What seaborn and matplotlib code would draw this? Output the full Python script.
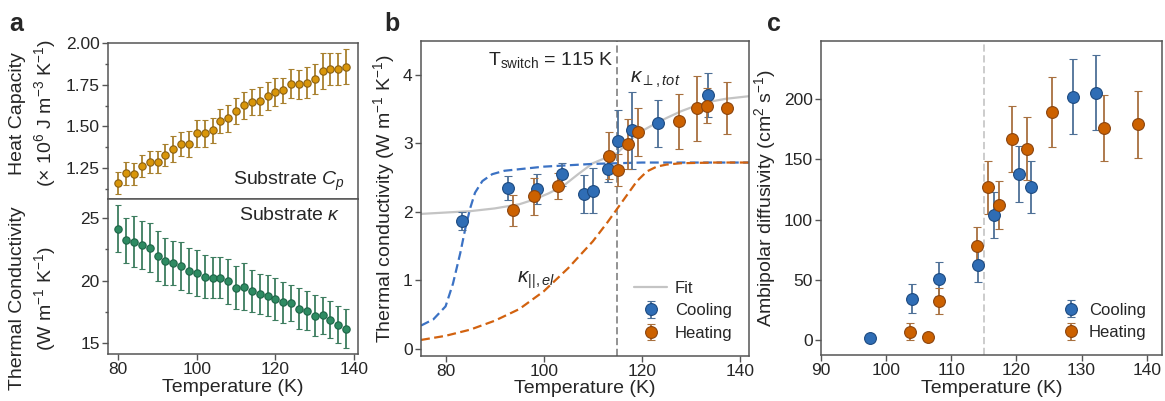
import matplotlib
matplotlib.use("Agg")
import matplotlib.pyplot as plt
import seaborn as sns
import numpy as np
from matplotlib.ticker import MultipleLocator

# ---- panel a: substrate heat capacity and thermal conductivity
temp_sub = [80, 82, 84, 86, 88, 90, 92, 94, 96, 98, 100, 102, 104, 106, 108,
            110, 112, 114, 116, 118, 120, 122, 124, 126, 128, 130, 132, 134, 136, 138]
cp = [1.161, 1.218, 1.216, 1.262, 1.286, 1.288, 1.329, 1.365, 1.395, 1.395,
      1.460, 1.458, 1.476, 1.534, 1.550, 1.591, 1.627, 1.647, 1.653, 1.683,
      1.704, 1.718, 1.756, 1.752, 1.762, 1.786, 1.833, 1.847, 1.843, 1.859]
cp_err = [0.067, 0.071, 0.067, 0.066, 0.067, 0.066, 0.064, 0.077, 0.073, 0.078,
          0.081, 0.083, 0.073, 0.073, 0.081, 0.078, 0.080, 0.079, 0.082, 0.085,
          0.084, 0.075, 0.086, 0.088, 0.094, 0.090, 0.108, 0.096, 0.097, 0.107]
kappa_sub = [24.15, 23.22, 23.11, 22.87, 22.63, 21.97, 21.54, 21.38, 21.17, 20.80,
             20.61, 20.32, 20.24, 20.24, 19.95, 19.44, 19.52, 19.18, 18.94, 18.80,
             18.54, 18.27, 18.22, 17.77, 17.61, 17.21, 17.23, 16.89, 16.49, 16.17]
kappa_sub_err = [1.87, 1.78, 2.00, 1.91, 1.93, 1.99, 1.86, 1.77, 1.90, 1.78,
                 1.82, 1.72, 1.62, 1.64, 1.81, 1.70, 1.87, 1.65, 1.61, 1.62,
                 1.65, 1.64, 1.46, 1.64, 1.58, 1.62, 1.49, 1.50, 1.45, 1.57]

# ---- panel b: thermal conductivity
cool_T = [83.4, 92.8, 98.7, 103.8, 108.1, 110.1, 113.1, 115.1, 118.0, 123.3, 133.4]
cool_k = [1.87, 2.35, 2.33, 2.55, 2.26, 2.31, 2.62, 3.04, 3.19, 3.29, 3.70]
cool_k_err = [0.13, 0.18, 0.22, 0.17, 0.28, 0.33, 0.19, 0.45, 0.56, 0.34, 0.32]
heat_T = [93.7, 98.0, 103.0, 113.2, 115.1, 117.1, 119.1, 127.5, 131.3, 133.3, 137.4]
heat_k = [2.02, 2.23, 2.38, 2.82, 2.61, 2.99, 3.16, 3.32, 3.51, 3.55, 3.51]
heat_k_err = [0.22, 0.27, 0.19, 0.34, 0.23, 0.37, 0.35, 0.40, 0.48, 0.26, 0.38]

fit_T = [75, 80, 85, 90, 95, 98, 101, 104, 107, 110, 113, 115, 117, 119,
         122, 125, 128, 131, 134, 137, 142]
fit_k = [1.97, 1.99, 2.01, 2.05, 2.11, 2.18, 2.27, 2.38, 2.55, 2.71, 2.80, 2.86,
         3.00, 3.14, 3.26, 3.37, 3.47, 3.55, 3.61, 3.65, 3.69]

perp_T = [75, 77.5, 80, 81.5, 83, 84, 85, 86, 87.5, 89.5, 92, 96, 100, 105,
          110, 115, 120, 130, 142]
perp_k = [0.34, 0.43, 0.62, 0.95, 1.40, 1.75, 2.05, 2.28, 2.45, 2.55, 2.60,
          2.63, 2.66, 2.68, 2.70, 2.71, 2.72, 2.72, 2.72]
par_T = [75, 80, 85, 90, 95, 100, 105, 110, 113, 115, 117, 119, 121,
         123, 125, 128, 135, 142]
par_k = [0.13, 0.19, 0.28, 0.41, 0.58, 0.84, 1.18, 1.57, 1.85, 2.05,
         2.25, 2.45, 2.59, 2.66, 2.69, 2.71, 2.72, 2.72]

# ---- panel c: ambipolar diffusivity
cool_T_c = [97.5, 104.05, 108.05, 114.1, 116.5, 120.4, 122.2, 128.7, 132.2]
cool_D = [2.2, 34.5, 50.8, 62.7, 104.0, 137.8, 127.0, 202.2, 205.5]
cool_D_err = [0.8, 11.8, 13.8, 14.4, 19.0, 23.0, 21.8, 30.8, 31.0]
heat_T_c = [103.6, 106.4, 108.15, 113.9, 115.6, 117.4, 119.3, 121.7, 125.5, 133.4, 138.6]
heat_D = [7.1, 2.7, 32.6, 78.2, 127.0, 112.3, 167.0, 159.0, 189.5, 176.0, 179.0]
heat_D_err = [6.9, 3.0, 11.0, 16.0, 22.0, 20.0, 27.0, 26.0, 29.3, 27.2, 27.4]

T_SWITCH = 115

sns.set_theme(style="ticks")
plt.rcParams['font.family'] = ['Liberation Sans', 'DejaVu Sans']
plt.rcParams['mathtext.fontset'] = 'custom'
plt.rcParams['mathtext.rm'] = 'Liberation Sans'
plt.rcParams['mathtext.it'] = 'Liberation Sans:italic'
plt.rcParams['mathtext.bf'] = 'Liberation Sans:bold'

BLUE, BLUE_EDGE, BLUE_BAR = "#2f6db5", "#1d4a80", "#4d6f96"
ORANGE, ORANGE_EDGE, ORANGE_BAR = "#cc6100", "#8a4510", "#a8703f"
GOLD, GOLD_EDGE, GOLD_BAR = "#d9960a", "#8a6012", "#a8802e"
GREEN, GREEN_EDGE, GREEN_BAR = "#2e8b62", "#1d6547", "#3d7d5f"
SPINE = "#555555"
TICK_FS, LABEL_FS = 12.5, 14

fig = plt.figure(figsize=(11.65, 4.01), dpi=100)
ax_cp = fig.add_axes([0.0927, 0.5037, 0.2146, 0.389])
ax_ks = fig.add_axes([0.0927, 0.1172, 0.2146, 0.3865], sharex=ax_cp)
ax_b = fig.add_axes([0.3614, 0.113, 0.2815, 0.784])
ax_c = fig.add_axes([0.7047, 0.1147, 0.2924, 0.7823])


def style_axes(ax):
    for s in ax.spines.values():
        s.set_visible(True)
        s.set_color(SPINE)
        s.set_linewidth(1.1)
    ax.tick_params(which="both", direction="out", color=SPINE, width=1,
                   labelsize=TICK_FS, pad=2)
    ax.tick_params(which="major", length=4)
    ax.tick_params(which="minor", length=2.5)
    ax.grid(False)


def points(ax, x, y, err, face, edge, bar, ms, label=None, cap=3):
    return ax.errorbar(x, y, yerr=err, fmt="o", ms=ms, mfc=face, mec=edge,
                       mew=0.8, ecolor=bar, elinewidth=1.3, capsize=cap,
                       capthick=1.1, label=label, zorder=3)


# ---- panel a
points(ax_cp, temp_sub, cp, cp_err, GOLD, GOLD_EDGE, GOLD_BAR, 5.3, cap=2)
points(ax_ks, temp_sub, kappa_sub, kappa_sub_err, GREEN, GREEN_EDGE, GREEN_BAR, 5.3, cap=2)
for ax in (ax_cp, ax_ks):
    style_axes(ax)
ax_cp.set_xlim(77.4, 141)
ax_cp.set_ylim(1.065, 2.0)
ax_cp.yaxis.set_major_locator(MultipleLocator(0.25))
ax_cp.yaxis.set_minor_locator(MultipleLocator(0.125))
ax_cp.yaxis.set_major_formatter(matplotlib.ticker.FormatStrFormatter("%.2f"))
ax_cp.tick_params(axis="x", labelbottom=False)
ax_ks.set_ylim(14.15, 26.5)
ax_ks.yaxis.set_major_locator(MultipleLocator(5))
ax_ks.yaxis.set_minor_locator(MultipleLocator(2.5))
ax_ks.xaxis.set_major_locator(MultipleLocator(20))
ax_ks.set_xlabel("Temperature (K)", fontsize=LABEL_FS, labelpad=1)
ax_cp.set_ylabel("Heat Capacity\n(× 10$^{6}$ J m$^{-3}$ K$^{-1}$)",
                 fontsize=LABEL_FS, linespacing=1.3)
ax_ks.set_ylabel("Thermal Conductivity\n(W m$^{-1}$ K$^{-1}$)",
                 fontsize=LABEL_FS, linespacing=1.3)
ax_cp.yaxis.set_label_coords(-0.2, 0.55)
ax_ks.yaxis.set_label_coords(-0.2, 0.36)
ax_cp.text(0.95, 0.04, "Substrate $C_p$", transform=ax_cp.transAxes,
           ha="right", va="bottom", fontsize=LABEL_FS)
ax_ks.text(0.93, 0.95, "Substrate $\\kappa$", transform=ax_ks.transAxes,
           ha="right", va="top", fontsize=LABEL_FS)

# ---- panel b
style_axes(ax_b)
sns.lineplot(x=fit_T, y=fit_k, ax=ax_b, color="#c4c4c4", lw=1.6, label="Fit", zorder=1)
sns.lineplot(x=perp_T, y=perp_k, ax=ax_b, color="#3b72c4", lw=1.6,
             zorder=2, legend=False).lines[-1].set_dashes((4, 2))
sns.lineplot(x=par_T, y=par_k, ax=ax_b, color="#d2620f", lw=1.6,
             legend=False, zorder=2).lines[-1].set_dashes((4, 2))
ax_b.axvline(T_SWITCH, color="#8a8a8a", lw=1.3, ls=(0, (4, 2)), zorder=0)
points(ax_b, cool_T, cool_k, cool_k_err, BLUE, BLUE_EDGE, BLUE_BAR, 8.5, label="Cooling")
points(ax_b, heat_T, heat_k, heat_k_err, ORANGE, ORANGE_EDGE, ORANGE_BAR, 8.5, label="Heating")
ax_b.set_xlim(75, 141.8)
ax_b.set_ylim(-0.1, 4.49)
ax_b.xaxis.set_major_locator(MultipleLocator(20))
ax_b.yaxis.set_major_locator(MultipleLocator(1))
ax_b.set_xlabel("Temperature (K)", fontsize=LABEL_FS, labelpad=1)
ax_b.set_ylabel("Thermal conductivity (W m$^{-1}$ K$^{-1}$)", fontsize=LABEL_FS)
ax_b.text(88.7, 4.22, "T$_{\\rm switch}$ = 115 K", fontsize=LABEL_FS, va="center")
ax_b.text(117.6, 3.93, "$\\kappa_{\\perp,tot}$", fontsize=15, va="center")
ax_b.text(94.6, 1.0, "$\\kappa_{||,el}$", fontsize=15, va="center")
handles, labels = ax_b.get_legend_handles_labels()
order = [labels.index(n) for n in ("Fit", "Cooling", "Heating")]
ax_b.legend([handles[i] for i in order], [labels[i] for i in order],
            loc="lower right", bbox_to_anchor=(0.995, 0.0), frameon=False,
            fontsize=12, handlelength=2.0, handletextpad=0.45, labelspacing=0.45)

# ---- panel c
style_axes(ax_c)
ax_c.axvline(T_SWITCH, color="#c8c8c8", lw=1.3, ls=(0, (4, 2)), zorder=0)
points(ax_c, cool_T_c, cool_D, cool_D_err, BLUE, BLUE_EDGE, BLUE_BAR, 8.5, label="Cooling")
points(ax_c, heat_T_c, heat_D, heat_D_err, ORANGE, ORANGE_EDGE, ORANGE_BAR, 8.5, label="Heating")
ax_c.set_xlim(90, 142.3)
ax_c.set_ylim(-12.2, 248)
ax_c.xaxis.set_major_locator(MultipleLocator(10))
ax_c.yaxis.set_major_locator(MultipleLocator(50))
ax_c.set_xlabel("Temperature (K)", fontsize=LABEL_FS, labelpad=1)
ax_c.set_ylabel("Ambipolar diffusivity (cm$^{2}$ s$^{-1}$)", fontsize=LABEL_FS)
ax_c.legend(loc="lower right", bbox_to_anchor=(1.0, 0.0), frameon=False,
            fontsize=12, handlelength=1.0, handletextpad=0.6, labelspacing=0.45)

for letter, x in (("a", 0.008), ("b", 0.330), ("c", 0.658)):
    fig.text(x, 0.94, letter, fontsize=18, fontweight="bold", va="center")

fig.savefig("out.png", dpi=100)
